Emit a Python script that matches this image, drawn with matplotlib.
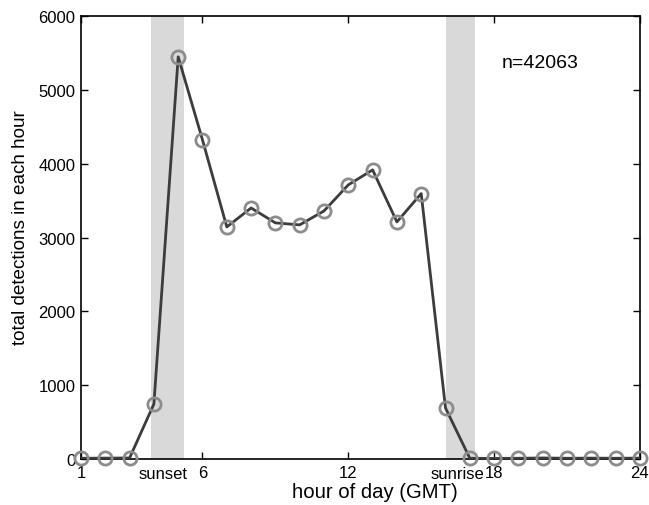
import matplotlib
matplotlib.use("Agg")
import matplotlib.pyplot as plt

hours = list(range(1, 25))
detections = [10, 12, 14, 745, 5447, 4322, 3143, 3400, 3198, 3171, 3360, 3713,
              3916, 3211, 3595, 691, 10, 8, 10, 14, 10, 12, 10, 12]
sunset_band = (3.9, 5.25)
sunrise_band = (16.0, 17.22)
xticks = [1, 6, 12, 18, 24]
yticks = [0, 1000, 2000, 3000, 4000, 5000, 6000]

plt.rcParams['font.family'] = ['Liberation Sans', 'DejaVu Sans']

fig = plt.figure(figsize=(6.49, 5.06), dpi=100)
ax = fig.add_axes([0.1248, 0.0909, 0.8612, 0.8755])

ax.axvspan(*sunset_band, color='#d9d9d9', lw=0, zorder=0)
ax.axvspan(*sunrise_band, color='#d9d9d9', lw=0, zorder=0)
ax.plot(hours, detections, color='#3c3c3c', lw=2, zorder=3)
ax.plot(hours, detections, ls='none', marker='o', ms=9.5, mfc='none',
        mec='#8c8c8c', mew=2, zorder=4, clip_on=False)

ax.set_xlim(1, 24)
ax.set_ylim(0, 6000)
ax.set_xticks(xticks)
ax.set_yticks(yticks)
ax.tick_params(direction='in', top=True, right=True, length=5, width=1,
               labelsize=12, pad=4)
for s in ax.spines.values():
    s.set_linewidth(1.2)

ax.text(sum(sunset_band) / 2 - 0.2, -0.015, 'sunset', transform=ax.get_xaxis_transform(),
        ha='center', va='top', fontsize=12)
ax.text(sum(sunrise_band) / 2 - 0.1, -0.015, 'sunrise', transform=ax.get_xaxis_transform(),
        ha='center', va='top', fontsize=12)
ax.text(0.821, 0.894, 'n=42063', transform=ax.transAxes, ha='center', va='center',
        fontsize=14)

ax.set_xlabel('hour of day (GMT)', fontsize=14.6)
ax.set_ylabel('total detections in each hour', fontsize=13.6)
ax.xaxis.set_label_coords(0.525, -0.052)
ax.yaxis.set_label_coords(-0.093, 0.525)

fig.savefig('out.png', dpi=100)
